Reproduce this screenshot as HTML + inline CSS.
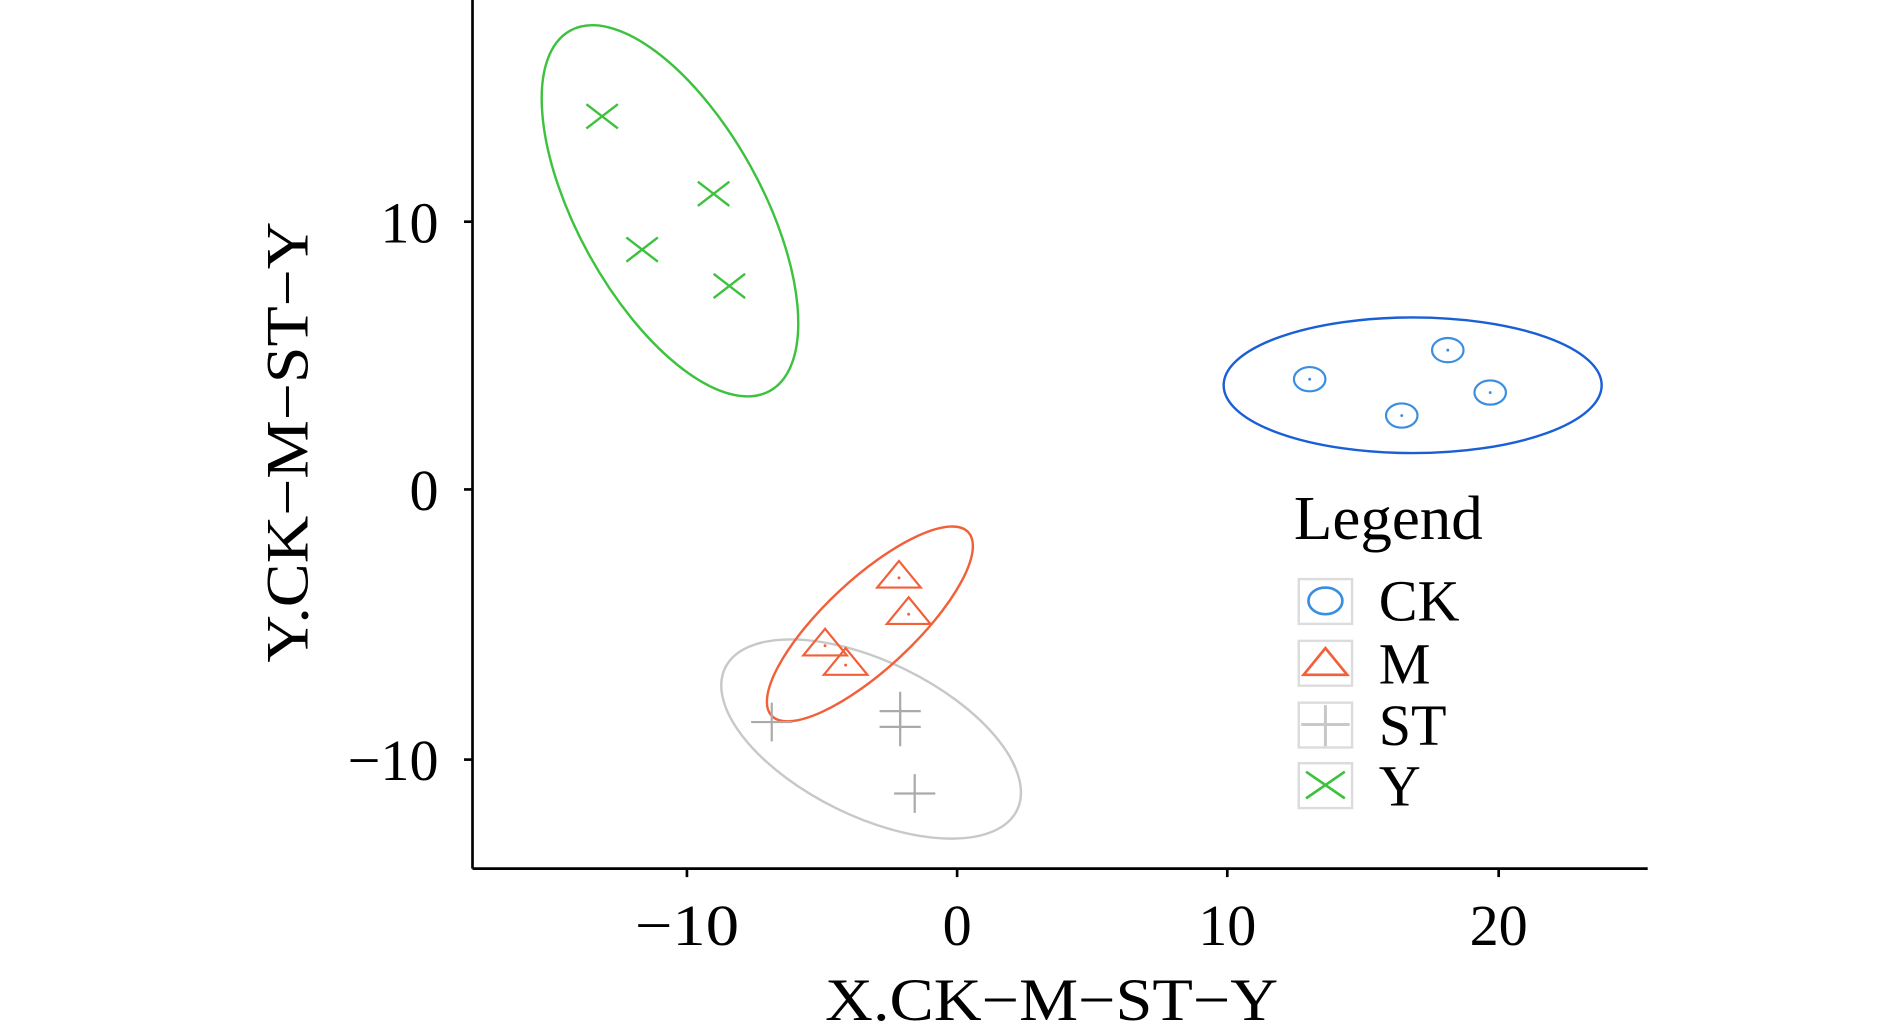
<!DOCTYPE html>
<html><head><style>html,body{margin:0;padding:0;background:#fff;width:1890px;height:1034px;overflow:hidden}</style></head>
<body>
<svg width="1890" height="1034" viewBox="0 0 1560 853.5" preserveAspectRatio="none" xmlns="http://www.w3.org/2000/svg" font-family="Liberation Serif, serif">
<g stroke="#000" stroke-width="2.2" fill="none">
<line x1="390" y1="0" x2="390" y2="717"/>
<line x1="390" y1="717" x2="1360" y2="717"/>
<line x1="567" y1="717" x2="567" y2="724"/><line x1="790" y1="717" x2="790" y2="724"/>
<line x1="1013" y1="717" x2="1013" y2="724"/><line x1="1237" y1="717" x2="1237" y2="724"/>
<line x1="383" y1="183" x2="390" y2="183"/><line x1="383" y1="404" x2="390" y2="404"/><line x1="383" y1="627" x2="390" y2="627"/>
</g>
<g font-size="48" fill="#000" text-anchor="middle">
<text x="567" y="780" textLength="86" lengthAdjust="spacingAndGlyphs">−10</text><text x="790" y="780">0</text><text x="1013" y="780">10</text><text x="1237" y="780">20</text>
</g>
<g font-size="48" fill="#000" text-anchor="end">
<text x="362" y="200">10</text><text x="362" y="421">0</text><text x="362" y="644">−10</text>
</g>
<text x="868" y="842" font-size="50" text-anchor="middle" textLength="374" lengthAdjust="spacingAndGlyphs">X.CK−M−ST−Y</text>
<text transform="translate(254,365) rotate(-90)" font-size="50" text-anchor="middle" textLength="364" lengthAdjust="spacingAndGlyphs">Y.CK−M−ST−Y</text>

<ellipse cx="553" cy="174" rx="170" ry="76" transform="rotate(61 553 174)" fill="none" stroke="#3cc23c" stroke-width="2"/>
<ellipse cx="1166" cy="318" rx="156" ry="56" fill="none" stroke="#1a5fd6" stroke-width="2"/>
<ellipse cx="719" cy="610" rx="134" ry="64" transform="rotate(26 719 610)" fill="none" stroke="#c8c8c8" stroke-width="2"/>
<ellipse cx="718" cy="515" rx="111" ry="37" transform="rotate(-43 718 515)" fill="none" stroke="#f2603a" stroke-width="2"/>

<g stroke="#3cc23c" stroke-width="2">
<path d="M484,86l26,20M484,106l26,-20"/><path d="M576,150l26,20M576,170l26,-20"/>
<path d="M517,196l26,20M517,216l26,-20"/><path d="M589,226l26,20M589,246l26,-20"/>
</g>
<g stroke="#3a8ee0" stroke-width="1.8" fill="none">
<ellipse cx="1081" cy="313" rx="13" ry="10"/><ellipse cx="1195" cy="289" rx="13" ry="10"/>
<ellipse cx="1230" cy="324" rx="13" ry="10"/><ellipse cx="1157" cy="343" rx="13" ry="10"/>
</g>
<g fill="#3a8ee0"><circle cx="1081" cy="313" r="1.2"/><circle cx="1195" cy="289" r="1.2"/><circle cx="1230" cy="324" r="1.2"/><circle cx="1157" cy="343" r="1.2"/></g>
<g stroke="#f2603a" stroke-width="1.8" fill="none">
<path d="M742,463l-18,22h36z"/><path d="M750,493l-18,22h36z"/><path d="M681,519l-18,22h36z"/><path d="M698,535l-18,22h36z"/>
</g>
<g fill="#f2603a"><circle cx="742" cy="477" r="1.2"/><circle cx="750" cy="507" r="1.2"/><circle cx="681" cy="533" r="1.2"/><circle cx="698" cy="549" r="1.2"/></g>
<g stroke="#aaaaaa" stroke-width="1.8">
<path d="M620,596h34M637,580v32"/><path d="M726,587h34M743,571v32"/><path d="M726,600h34M743,584v32"/><path d="M738,655h34M755,639v32"/>
</g>

<text x="1068" y="445" font-size="52">Legend</text>
<g fill="none" stroke="#dcdcdc" stroke-width="2">
<rect x="1072" y="478" width="44" height="37"/><rect x="1072" y="529" width="44" height="37"/>
<rect x="1072" y="580" width="44" height="37"/><rect x="1072" y="630" width="44" height="37"/>
</g>
<ellipse cx="1094" cy="496" rx="14" ry="11" fill="none" stroke="#3a8ee0" stroke-width="2.2"/>
<path d="M1094,535l-18,22h36z" fill="none" stroke="#f2603a" stroke-width="2.2"/>
<path d="M1074,598h40M1094,582v34" stroke="#c8c8c8" stroke-width="2.5"/>
<path d="M1078,637l32,22M1078,659l32,-22" stroke="#3cc23c" stroke-width="2.2"/>
<g font-size="48" fill="#000">
<text x="1138" y="512">CK</text><text x="1138" y="564">M</text><text x="1138" y="615">ST</text><text x="1138" y="665">Y</text>
</g>
</svg>
</body></html>
